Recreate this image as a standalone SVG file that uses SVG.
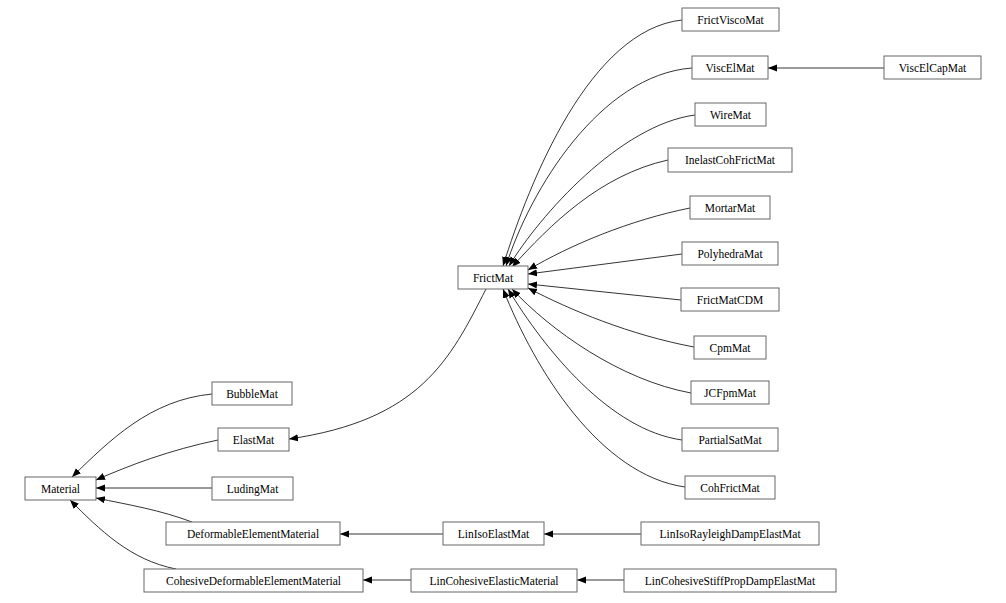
<svg xmlns="http://www.w3.org/2000/svg" width="1006" height="603" viewBox="0 0 1006 603">
<style>
rect{fill:#fff;stroke:#666;stroke-width:1}
text{font-family:"Liberation Serif",serif;font-size:11.5px;text-anchor:middle;fill:#000}
#edges path{fill:none;stroke:#000;stroke-width:0.8;marker-end:url(#a)}
</style>
<defs><marker id="a" viewBox="0 0 10 10" refX="10" refY="5" markerWidth="9" markerHeight="9" markerUnits="userSpaceOnUse" orient="auto"><path d="M0,1L10,5L0,9z" fill="#000"/></marker></defs>
<rect x="0" y="0" width="1006" height="603" style="stroke:none"/>
<g id="edges">
<path d="M682,20C590,30 530,180 503,266"/>
<path d="M692,68C600,75 530,190 506,266"/>
<path d="M884,68L768,68"/>
<path d="M695,115C620,125 540,215 509,266"/>
<path d="M668,160C600,175 550,225 512,267"/>
<path d="M690,208C630,220 570,245 528,270"/>
<path d="M682,254L528,274"/>
<path d="M681,300L528,284"/>
<path d="M694,347C630,335 570,310 528,288"/>
<path d="M691,393C620,380 550,330 512,289"/>
<path d="M682,440C610,430 545,350 508,289"/>
<path d="M685,487C600,475 535,370 503,289"/>
<path d="M486,289C450,360 420,420 289,439"/>
<path d="M212,394C150,400 110,440 72,477"/>
<path d="M218,440C170,450 130,465 96,480"/>
<path d="M212,488L96,488"/>
<path d="M192,522C160,510 130,505 96,498"/>
<path d="M176,569C130,560 100,530 70,500"/>
<path d="M443,534L340,534"/>
<path d="M641,534L544,534"/>
<path d="M411,580L363,580"/>
<path d="M624,580L577,580"/>
</g>
<g id="FrictViscoMat"><rect x="682" y="8" width="97" height="23"/><text x="730.5" y="24">FrictViscoMat</text></g>
<g id="ViscElMat"><rect x="692" y="56" width="76" height="23"/><text x="730" y="72">ViscElMat</text></g>
<g id="ViscElCapMat"><rect x="884" y="56" width="97" height="23"/><text x="932.5" y="72">ViscElCapMat</text></g>
<g id="WireMat"><rect x="695" y="103" width="71" height="23"/><text x="730.5" y="119">WireMat</text></g>
<g id="InelastCohFrictMat"><rect x="668" y="148" width="124" height="24"/><text x="730" y="164">InelastCohFrictMat</text></g>
<g id="MortarMat"><rect x="690" y="196" width="80" height="23"/><text x="730" y="212">MortarMat</text></g>
<g id="PolyhedraMat"><rect x="682" y="242" width="96" height="23"/><text x="730" y="258">PolyhedraMat</text></g>
<g id="FrictMatCDM"><rect x="681" y="288" width="98" height="23"/><text x="730" y="304">FrictMatCDM</text></g>
<g id="CpmMat"><rect x="694" y="336" width="72" height="23"/><text x="730" y="352">CpmMat</text></g>
<g id="JCFpmMat"><rect x="691" y="381" width="78" height="23"/><text x="730" y="397">JCFpmMat</text></g>
<g id="PartialSatMat"><rect x="682" y="428" width="96" height="23"/><text x="730" y="444">PartialSatMat</text></g>
<g id="CohFrictMat"><rect x="685" y="476" width="90" height="23"/><text x="730" y="492">CohFrictMat</text></g>
<g id="FrictMat"><rect x="458" y="266" width="70" height="23"/><text x="493" y="282">FrictMat</text></g>
<g id="BubbleMat"><rect x="212" y="382" width="80" height="23"/><text x="252" y="398">BubbleMat</text></g>
<g id="ElastMat"><rect x="218" y="428" width="71" height="23"/><text x="253.5" y="444">ElastMat</text></g>
<g id="LudingMat"><rect x="212" y="477" width="81" height="23"/><text x="252.5" y="493">LudingMat</text></g>
<g id="Material"><rect x="25" y="477" width="71" height="23"/><text x="60.5" y="493">Material</text></g>
<g id="DeformableElementMaterial"><rect x="166" y="522" width="174" height="23"/><text x="253" y="538">DeformableElementMaterial</text></g>
<g id="LinIsoElastMat"><rect x="443" y="522" width="101" height="23"/><text x="493.5" y="538">LinIsoElastMat</text></g>
<g id="LinIsoRayleighDampElastMat"><rect x="641" y="522" width="178" height="23"/><text x="730" y="538">LinIsoRayleighDampElastMat</text></g>
<g id="CohesiveDeformableElementMaterial"><rect x="144" y="569" width="219" height="23"/><text x="253.5" y="585">CohesiveDeformableElementMaterial</text></g>
<g id="LinCohesiveElasticMaterial"><rect x="411" y="569" width="166" height="23"/><text x="494" y="585">LinCohesiveElasticMaterial</text></g>
<g id="LinCohesiveStiffPropDampElastMat"><rect x="624" y="569" width="212" height="23"/><text x="730" y="585">LinCohesiveStiffPropDampElastMat</text></g>
</svg>
